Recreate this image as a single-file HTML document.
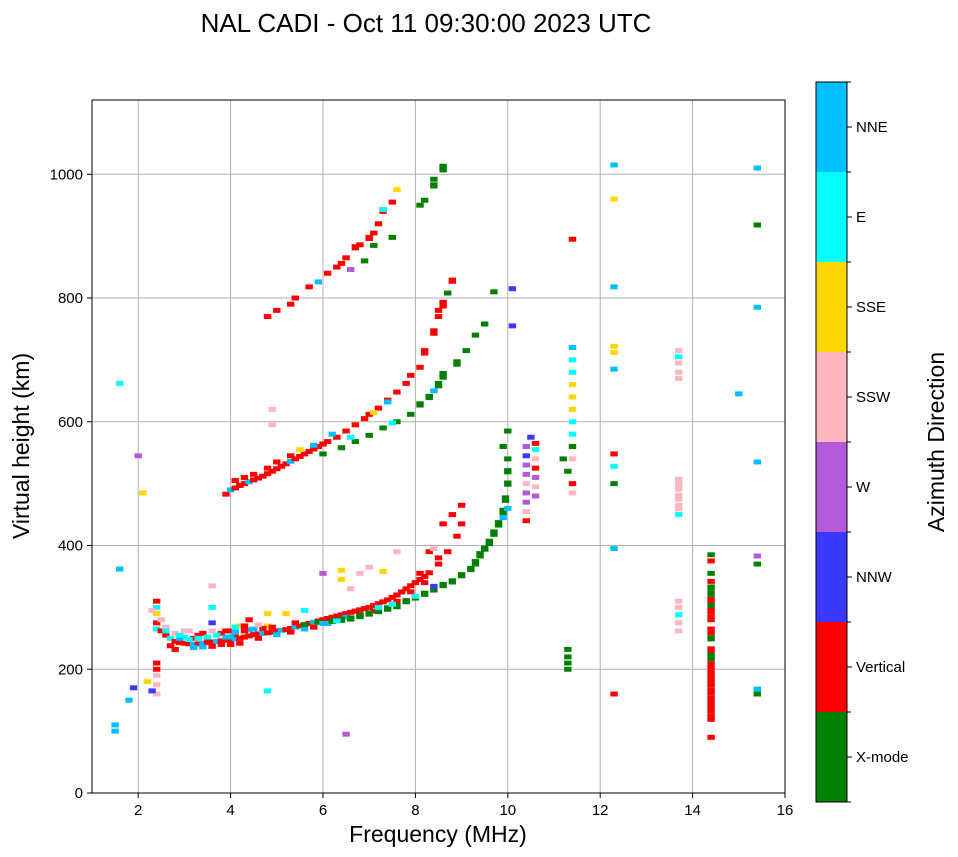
<!DOCTYPE html>
<html><head><meta charset="utf-8"><style>
html,body{margin:0;padding:0;background:#fff;}
svg{display:block;font-family:"Liberation Sans","DejaVu Sans",sans-serif;}
</style></head><body>
<svg id="chart" width="958" height="857" viewBox="0 0 958 857">
<text x="426" y="32" text-anchor="middle" font-size="26">NAL CADI - Oct 11 09:30:00 2023 UTC</text>
<g id="grid"></g>
<g id="marks"></g>
<rect x="92" y="100" width="693" height="693" fill="none" stroke="#000" stroke-width="1"/>
<g id="axes"></g>
<text x="438" y="842" text-anchor="middle" font-size="23">Frequency (MHz)</text>
<text transform="translate(29,446) rotate(-90)" text-anchor="middle" font-size="23">Virtual height (km)</text>
<g id="cbar"></g>
<text transform="translate(944,442) rotate(-90)" text-anchor="middle" font-size="23">Azimuth Direction</text>
</svg>
<script>
const dirLabels=["X-mode","Vertical","NNW","W","SSW","SSE","E","NNE"];
const dirColors=["#008000","#ff0000","#3a3aff","#b35ad8","#ffb6c1","#ffd700","#00ffff","#00bfff"];
const xTicks=[2,4,6,8,10,12,14,16];
const yTicks=[0,200,400,600,800,1000];
// [freq MHz, height km, direction index, optional mark height km]
const lowerTrace=[[2.4,275,1],[2.4,265,6],[2.5,262,1],[2.6,255,1],[2.6,268,4],[2.7,250,6],[2.8,245,1],[2.8,258,4],[2.9,243,1],[3.0,242,1],[3.0,252,6],[3.1,241,1],[3.2,240,7],[3.2,250,1],[3.3,241,1],[3.4,242,7],[3.4,258,1],[3.5,243,1],[3.6,244,1],[3.6,262,4],[3.7,245,7],[3.8,246,1],[3.8,258,1],[3.9,247,1],[4.0,248,1],[4.0,262,1],[4.1,249,7],[4.2,250,1],[4.2,270,5],[4.3,252,1],[4.4,254,1],[4.4,264,7],[4.5,256,1],[4.6,257,1],[4.7,258,7],[4.8,259,1],[4.8,270,5],[4.9,260,1],[5.0,262,1],[5.1,263,7],[5.2,264,1],[5.3,266,1],[5.4,268,7],[5.5,270,1],[5.6,272,1],[5.7,274,1],[5.8,276,7],[5.9,278,1],[6.0,280,1],[6.1,282,1],[6.2,284,1],[6.3,286,1],[6.4,288,1],[6.5,290,1],[6.6,292,1],[6.7,294,1],[6.8,296,1],[6.9,298,1],[7.0,300,1],[7.1,303,1],[7.2,306,1],[7.3,309,1],[7.4,312,1],[7.5,316,1],[7.6,320,1],[7.7,325,1],[7.8,330,1],[7.9,335,1],[8.0,340,1],[8.1,345,1],[8.2,350,1],[8.3,356,1],[8.5,370,1],[8.5,380,1],[8.7,390,1],[8.9,415,1],[9.0,435,1],[9.0,465,1]];
const lowerBand=[[2.7,238,1],[2.8,232,1],[2.9,250,7],[3.0,262,4],[3.1,248,6],[3.2,235,7],[3.3,255,1],[3.4,236,7],[3.5,250,1],[3.6,237,1],[3.7,255,6],[3.8,240,1],[3.9,262,1],[3.9,252,7],[4.0,240,1],[4.1,268,6],[4.1,256,1],[4.2,242,1],[4.3,262,1],[4.3,270,1],[4.5,265,7],[4.6,250,1],[4.7,266,1],[4.9,268,1],[5.0,256,7],[5.3,260,1],[5.4,275,1],[5.6,265,7],[5.8,268,1],[6.1,274,7],[6.3,280,1],[6.5,284,7],[6.8,288,1],[7.1,294,1],[7.4,300,6],[7.6,310,1],[7.9,325,1],[8.2,340,1]];
const lowerX=[[5.6,272,0],[5.9,276,0],[6.2,278,0,10],[6.4,280,0,10],[6.6,282,0,10],[6.8,286,0,10],[7.0,290,0,10],[7.2,294,0,10],[7.4,298,0,10],[7.6,302,0,10],[7.8,310,0,10],[8.0,316,0,10],[8.2,322,0,10],[8.4,330,0,12],[8.6,336,0,10],[8.8,342,0,10],[9.0,352,0,10],[9.2,362,0,10],[9.3,372,0,12],[9.4,385,0,12],[9.5,395,0,10],[9.6,405,0,12],[9.7,420,0,12],[9.8,435,0,12],[9.9,455,0,12],[9.95,475,0,12],[10.0,500,0,10],[10.0,520,0,10],[10.0,540,0],[9.9,560,0],[10.0,585,0],[6.0,274,7],[6.3,278,6],[7.2,300,6],[7.5,305,6],[8.0,318,6],[8.4,334,2],[9.9,445,7],[10.0,460,7]];
const lowerExtras=[[2.4,300,6],[2.4,310,1],[2.4,290,5],[2.3,295,4],[2.5,280,4],[2.6,262,6],[2.9,255,6],[3.1,262,4],[3.3,250,6],[3.5,252,6],[3.6,275,2],[3.6,300,6],[3.6,335,4],[4.0,252,7],[4.1,260,7],[4.4,280,1],[4.6,272,4],[4.8,290,5],[5.2,290,5],[5.6,295,6],[6.0,355,3],[6.4,345,5],[6.4,360,5],[6.6,330,4],[6.8,355,4],[7.0,365,4],[7.3,358,5],[7.6,390,4],[8.1,355,1],[8.3,390,1],[8.4,395,4],[8.6,435,1],[8.8,450,1],[2.4,210,1],[2.4,190,4],[2.4,175,4],[2.4,160,4],[2.2,180,5],[2.3,165,2],[1.8,150,7],[1.5,110,7],[1.5,100,7],[1.9,170,2],[2.4,200,1],[4.8,165,6],[6.5,95,3],[1.6,362,7],[1.6,662,6],[2.0,545,3],[2.1,485,5]];
const secondTrace=[[3.9,483,1],[4.0,490,7],[4.1,493,1],[4.2,497,1],[4.3,500,1],[4.4,503,7],[4.5,506,1],[4.6,509,1],[4.7,512,1],[4.8,516,1],[4.9,520,1],[5.0,524,1],[5.1,528,1],[5.2,532,1],[5.3,536,7],[5.4,540,1],[5.5,544,1],[5.6,548,1],[5.7,552,1],[5.8,556,1],[5.9,560,1],[6.0,564,1],[6.1,568,1],[6.3,575,1],[6.5,585,1],[6.7,595,1],[6.9,605,1],[7.0,612,1],[7.2,622,1],[7.4,635,1],[7.6,648,1],[7.8,662,1],[7.9,675,1],[8.1,688,1],[8.2,713,1,12],[8.4,745,1,12],[8.5,770,1],[8.6,790,1,14],[8.8,828,1,10],[4.1,505,1],[4.3,510,1],[4.5,515,1],[4.8,525,1],[5.0,535,1],[5.3,545,1],[5.5,555,5],[5.8,562,7],[6.2,580,7],[4.9,620,4],[4.9,595,4],[7.1,615,5],[7.4,632,7],[8.5,780,1]];
const secondX=[[6.0,548,0],[6.4,558,0],[6.7,568,0],[7.0,578,0],[7.3,590,0],[7.6,600,0],[7.9,612,0],[8.1,628,0,10],[8.3,640,0,10],[8.5,660,0,12],[8.6,675,0,14],[8.9,695,0,12],[9.1,715,0],[9.3,740,0],[9.5,758,0],[9.7,810,0],[6.6,575,6],[7.5,598,6],[8.4,650,7]];
const thirdTrace=[[4.8,770,1],[5.0,780,1],[5.3,790,1],[5.4,800,1],[5.7,818,1],[5.9,826,7],[6.1,840,1],[6.3,850,1],[6.4,856,1],[6.5,865,1],[6.7,882,1,10],[6.8,886,1],[7.0,897,1,10],[7.1,905,1],[7.2,920,1],[7.3,940,1],[7.5,955,1],[7.6,975,5],[6.6,846,3],[7.3,943,6],[6.9,860,0],[7.1,885,0],[7.5,898,0],[8.1,950,0],[8.2,958,0],[8.4,982,0,10],[8.4,992,0],[8.6,1010,0,14],[8.7,808,0]];
const columns=[[10.4,440,1],[10.4,455,4],[10.4,470,3],[10.4,485,3],[10.4,500,4],[10.4,515,3],[10.4,530,3],[10.4,545,2],[10.4,560,3],[10.6,480,3],[10.6,495,4],[10.6,510,3],[10.6,525,1],[10.6,540,4],[10.6,555,6],[10.6,565,1],[10.5,575,2],[10.1,815,2],[10.1,755,2],[11.3,520,0],[11.2,540,0],[11.4,500,1],[11.4,540,4],[11.4,560,0],[11.4,580,6],[11.4,600,6],[11.4,620,5],[11.4,640,5],[11.4,660,5],[11.4,680,6],[11.4,700,6],[11.4,720,7],[11.4,895,1],[11.4,485,4],[11.3,200,0],[11.3,210,0],[11.3,220,0],[11.3,232,0],[12.3,160,1],[12.3,395,7],[12.3,500,0],[12.3,528,6],[12.3,548,1],[12.3,685,7],[12.3,712,5],[12.3,722,5],[12.3,818,7],[12.3,960,5],[12.3,1015,7],[13.7,262,4],[13.7,275,4],[13.7,288,6],[13.7,300,4],[13.7,310,4],[13.7,450,6],[13.7,462,4,14],[13.7,478,4,14],[13.7,494,4,14],[13.7,506,4,10],[13.7,670,4],[13.7,680,4],[13.7,695,4],[13.7,705,6],[13.7,715,4],[14.4,90,1],[14.4,122,1,14],[14.4,136,1,14],[14.4,150,1,14],[14.4,164,1,14],[14.4,178,1,14],[14.4,192,1,14],[14.4,206,1,14],[14.4,220,0,14],[14.4,232,1,10],[14.4,250,0,10],[14.4,262,1,14],[14.4,282,1,12],[14.4,294,1,12],[14.4,304,0,10],[14.4,312,1,10],[14.4,322,0,10],[14.4,332,0,10],[14.4,342,1],[14.4,355,0],[14.4,375,1],[14.4,385,0],[15.0,645,7],[15.4,160,0],[15.4,168,7],[15.4,370,0],[15.4,383,3],[15.4,535,7],[15.4,785,7],[15.4,918,0],[15.4,1010,7]];
const allTraces=[lowerTrace,lowerBand,lowerX,lowerExtras,secondTrace,secondX,thirdTrace,columns];

const X0=92,X1=785,Y0=793,Y1=100;
function xs(f){return X0+(f-1)/(16-1)*(X1-X0);}
function ys(h){return Y0-h/1120*(Y0-Y1);}
const NS="http://www.w3.org/2000/svg";
function mk(tag,attrs,parent){const e=document.createElementNS(NS,tag);for(const k in attrs)e.setAttribute(k,attrs[k]);parent.appendChild(e);return e;}
const grid=document.getElementById('grid'),axes=document.getElementById('axes'),marks=document.getElementById('marks'),cbar=document.getElementById('cbar');
xTicks.forEach(t=>{const x=xs(t);
 if(t<16){const g=mk('line',{x1:x,x2:x,y1:Y1,y2:Y0,stroke:'#b0b0b0','stroke-width':1},grid);}
 const tk=mk('line',{x1:x,x2:x,y1:Y0,y2:Y0+5,stroke:'#000'},axes);
 const l=mk('text',{x:x,y:Y0+22,'text-anchor':'middle','font-size':15},axes);l.textContent=t;});
yTicks.forEach(t=>{const y=ys(t);
 if(t>0){const g=mk('line',{x1:X0,x2:X1,y1:y,y2:y,stroke:'#b0b0b0','stroke-width':1},grid);}
 const tk=mk('line',{x1:X0-5,x2:X0,y1:y,y2:y,stroke:'#000'},axes);
 const l=mk('text',{x:X0-9,y:y+5,'text-anchor':'end','font-size':15},axes);l.textContent=t;});
const MW=0.16,MH=8;
allTraces.forEach(tr=>tr.forEach(p=>{const mh=p[3]||MH;const x=xs(p[0]-MW/2),y=ys(p[1]+mh/2);
 const r=mk('rect',{x:x,y:y,width:xs(p[0]+MW/2)-x,height:ys(p[1]-mh/2)-y,fill:dirColors[p[2]]},marks);
 }));
const CX=816,CW=31,CT=82,CB=802,seg=(CB-CT)/dirLabels.length;
dirLabels.forEach((lab,i)=>{const y=CB-(i+1)*seg;
 const r=mk('rect',{x:CX,y:y,width:CW,height:seg,fill:dirColors[i]},cbar);
 const tk=mk('line',{x1:CX+CW,x2:CX+CW+5,y1:y+seg/2,y2:y+seg/2,stroke:'#000'},cbar);
 const t=mk('text',{x:CX+CW+9,y:y+seg/2+5,'font-size':15},cbar);t.textContent=lab;});
for(let i=0;i<=dirLabels.length;i++){const y=CT+i*seg;const b=mk('line',{x1:CX+CW,x2:CX+CW+4,y1:y,y2:y,stroke:'#000'},cbar);}
const fr=mk('rect',{x:CX,y:CT,width:CW,height:CB-CT,fill:'none',stroke:'#000'},cbar);
</script>
</body></html>
